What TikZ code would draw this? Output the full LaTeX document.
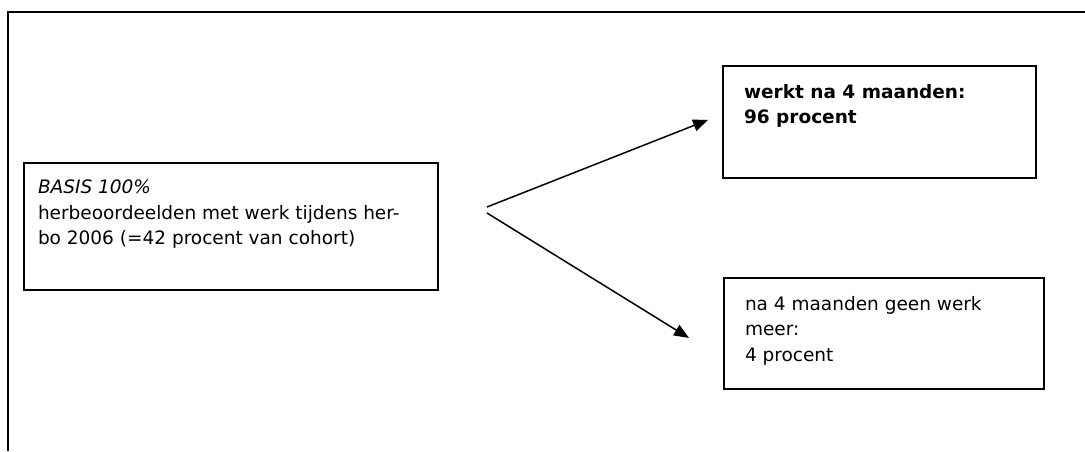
\documentclass[tikz,border=0pt]{standalone}
\usepackage{fontspec}
\setmainfont{DejaVu Sans}
\usetikzlibrary{arrows.meta}
\newcommand{\boxtxt}[3]{\parbox[c][#2][t]{#1}{\raggedright #3}}

\begin{document}
\begin{tikzpicture}[x=1pt,y=1pt]
		\tikzset{box/.style = {draw, line width=2pt, rectangle, anchor=north west, font=\fontsize{18.5}{25.5}\selectfont}}
		\tikzset{edge/.style = {-{Triangle[length=15pt,width=12pt]}, line width=1.5pt}}

		\useasboundingbox (0,0) rectangle (1085,451);
		\draw[line width=2.6pt] (1085,439) -- (8,439) -- (8,0);

		\node[box, inner xsep=14pt, inner ysep=17pt] (basis) at (23,289)
			{\boxtxt{386pt}{93pt}{\textit{BASIS 100\%}\\ herbeoordeelden met werk tijdens her-\\ bo 2006 (=42 procent van cohort)}};
		\node[box, inner xsep=21pt, inner ysep=18pt] (werkt) at (722,386)
			{\boxtxt{271pt}{76pt}{\textbf{werkt na 4 maanden:}\\ \textbf{96 procent}}};
		\node[box, inner xsep=21pt, inner ysep=18pt] (geenwerk) at (723,174)
			{\boxtxt{278pt}{75pt}{na 4 maanden geen werk\\ meer:\\ 4 procent}};

		\coordinate (splitA) at (487,244);
		\coordinate (splitB) at (487,238);

		\draw[edge, shorten >=15pt] (splitA) to ([yshift=7.6pt]werkt.west);
		\draw[edge, shorten >=40pt] (splitB) to ([yshift=-25.5pt]geenwerk.west);

	\end{tikzpicture}
\end{document}
